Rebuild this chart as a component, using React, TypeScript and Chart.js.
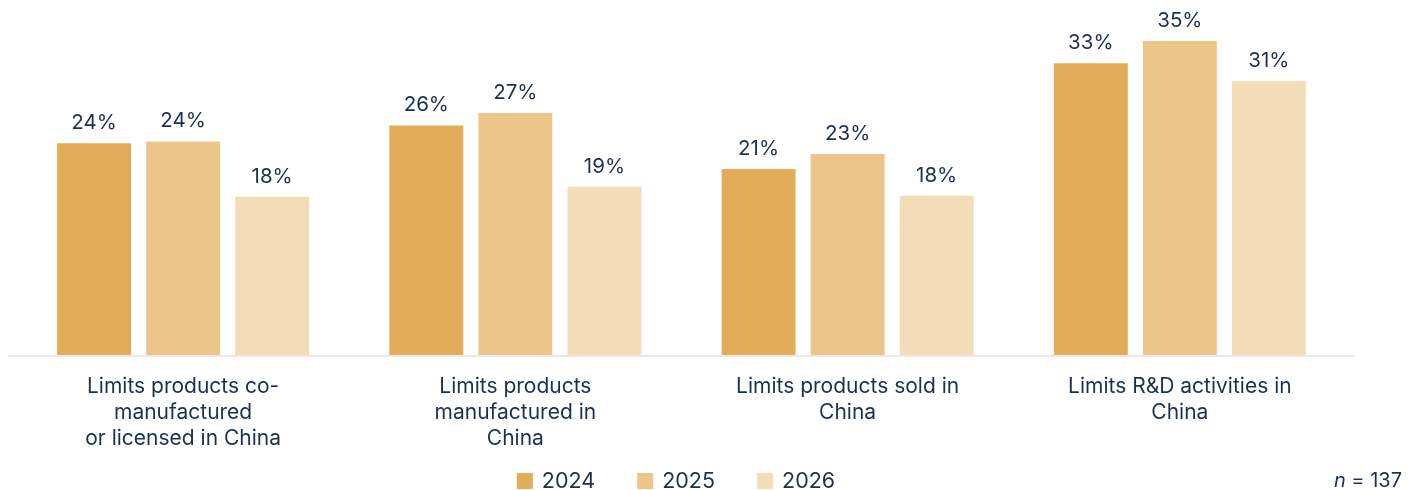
import React, { useEffect, useRef } from "react";
import { Chart, registerables } from "chart.js";

Chart.register(...registerables);

const categories: string[][] = [
  ["Limits products co-", "manufactured", "or licensed in China"],
  ["Limits products", "manufactured in", "China"],
  ["Limits products sold in", "China"],
  ["Limits R&D activities in", "China"],
];
const seriesNames = ["2024", "2025", "2026"];
const values2024 = [23.8, 25.8, 20.9, 32.8];
const values2025 = [24.0, 27.2, 22.6, 35.3];
const values2026 = [17.8, 18.9, 17.9, 30.8];
const colors = ["#E3AC58", "#EBC589", "#F3DDB9"];
const noteText = "= 137";

const FONT = "Inter, 'Noto Sans', sans-serif";
const TEXT = "#1B3150";

const overlay = {
  id: "overlay",
  afterDraw(chart: any) {
    const ctx = chart.ctx;
    const area = chart.chartArea;
    ctx.save();
    // baseline
    ctx.strokeStyle = "#ECE8E4";
    ctx.lineWidth = 2;
    ctx.beginPath();
    ctx.moveTo(8, area.bottom + 1);
    ctx.lineTo(1355, area.bottom + 1);
    ctx.stroke();
    // value labels
    ctx.fillStyle = TEXT;
    ctx.font = `20.5px ${FONT}`;
    ctx.textAlign = "center";
    ctx.textBaseline = "alphabetic";
    chart.data.datasets.forEach((ds: any, i: number) => {
      const meta = chart.getDatasetMeta(i);
      meta.data.forEach((bar: any, j: number) => {
        ctx.fillText(Math.round(ds.data[j]) + "%", bar.x, bar.y - 14);
      });
    });
    // legend
    ctx.font = `21.5px ${FONT}`;
    ctx.textAlign = "left";
    const box = 16;
    const gapBox = 9;
    const gapItem = 42;
    const widths = seriesNames.map((s) => box + gapBox + ctx.measureText(s).width);
    const total = widths.reduce((a, b) => a + b, 0) + gapItem * (widths.length - 1);
    let x = 676 - total / 2;
    const cy = 481;
    seriesNames.forEach((s, i) => {
      ctx.fillStyle = colors[i];
      ctx.fillRect(x, cy - box / 2, box, box);
      ctx.fillStyle = TEXT;
      ctx.textBaseline = "middle";
      ctx.fillText(s, x + box + gapBox, cy + 1);
      x += widths[i] + gapItem;
    });
    // note
    ctx.font = `20px ${FONT}`;
    ctx.textAlign = "right";
    ctx.textBaseline = "middle";
    ctx.fillText(noteText, 1402, cy);
    const w = ctx.measureText(noteText).width;
    ctx.font = `italic 20px ${FONT}`;
    ctx.fillText("n ", 1402 - w, cy);
    ctx.restore();
  },
};

export default function App() {
  const ref = useRef<HTMLCanvasElement>(null);
  useEffect(() => {
    if (!ref.current) return;
    const chart = new Chart(ref.current, {
      type: "bar",
      data: {
        labels: categories,
        datasets: [values2024, values2025, values2026].map((d, i) => ({
          label: seriesNames[i],
          data: d,
          backgroundColor: colors[i],
          categoryPercentage: 0.804,
          barPercentage: 0.83,
        })),
      },
      options: {
        animation: false,
        responsive: false,
        maintainAspectRatio: false,
        layout: { padding: { top: 8, left: 17, right: 74, bottom: 0 } },
        plugins: { legend: { display: false }, tooltip: { enabled: false } },
        scales: {
          x: {
            grid: { display: false },
            border: { display: false },
            ticks: {
              color: TEXT,
              font: { family: FONT, size: 21, lineHeight: 1.24 },
              padding: 11,
              maxRotation: 0,
              autoSkip: false,
            },
            afterFit(scale: any) {
              scale.height = 135;
            },
          },
          y: {
            display: false,
            min: 0,
            max: 39,
          },
        },
      },
      plugins: [overlay],
    });
    return () => chart.destroy();
  }, []);
  return (
    <div style={{ position: "absolute", left: 0, top: 0, width: 1420, height: 490, background: "#fff" }}>
      <canvas ref={ref} width={1420} height={490} style={{ display: "block" }} />
    </div>
  );
}
